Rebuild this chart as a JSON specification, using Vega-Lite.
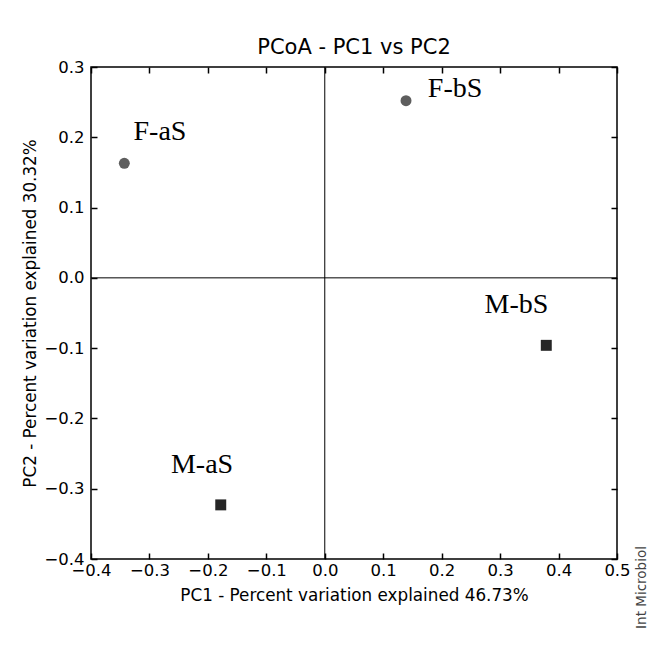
{
  "$schema": "https://vega.github.io/schema/vega-lite/v6.json",
  "width": 526,
  "height": 492,
  "autosize": {"type": "none"},
  "padding": {"left": 91, "top": 67, "right": 38, "bottom": 104},
  "background": "white",
  "title": {"text": "PCoA - PC1 vs PC2", "font": "DejaVu Sans", "fontSize": 21, "fontWeight": "normal", "color": "black", "offset": 1},
  "config": {
    "view": {"stroke": "black", "strokeWidth": 1.5},
    "axis": {
      "labelFont": "DejaVu Sans", "labelFontSize": 16.5, "labelColor": "black",
      "titleFont": "DejaVu Sans", "titleFontSize": 16.8, "titleFontWeight": "normal", "titleColor": "black",
      "domain": false, "grid": false, "tickColor": "black", "tickWidth": 1.5, "tickSize": -6,
      "labelOverlap": false, "labelFlush": false, "labelBound": false
    }
  },
  "datasets": {
    "pts": [
      {"sample": "F-aS", "group": "F", "pc1": -0.343, "pc2": 0.163, "lx": -0.282, "ly": 0.196},
      {"sample": "F-bS", "group": "F", "pc1": 0.139, "pc2": 0.252, "lx": 0.223, "ly": 0.257},
      {"sample": "M-bS", "group": "M", "pc1": 0.379, "pc2": -0.096, "lx": 0.328, "ly": -0.0495},
      {"sample": "M-aS", "group": "M", "pc1": -0.178, "pc2": -0.323, "lx": -0.21, "ly": -0.277}
    ],
    "zero": [{"v": 0}]
  },
  "layer": [
    {
      "data": {"name": "zero"},
      "mark": {"type": "rule", "color": "black", "strokeWidth": 1},
      "encoding": {"x": {"field": "v", "type": "quantitative", "scale": {"domain": [-0.4, 0.5], "nice": false, "zero": false}, "axis": null}}
    },
    {
      "data": {"name": "zero"},
      "mark": {"type": "rule", "color": "black", "strokeWidth": 1},
      "encoding": {"y": {"field": "v", "type": "quantitative", "scale": {"domain": [-0.4, 0.3], "nice": false, "zero": false}, "axis": null}}
    },
    {
      "data": {"name": "pts"},
      "mark": {"type": "point", "filled": true, "opacity": 1, "size": 120},
      "encoding": {
        "x": {"field": "pc1", "type": "quantitative", "scale": {"domain": [-0.4, 0.5], "nice": false, "zero": false},
              "axis": {"orient": "bottom", "values": [-0.4, -0.3, -0.2, -0.1, 0, 0.1, 0.2, 0.3, 0.4, 0.5], "format": ".1f", "labelPadding": 9, "title": "PC1 - Percent variation explained 46.73%", "titlePadding": 9}},
        "y": {"field": "pc2", "type": "quantitative", "scale": {"domain": [-0.4, 0.3], "nice": false, "zero": false},
              "axis": {"orient": "left", "values": [-0.4, -0.3, -0.2, -0.1, 0, 0.1, 0.2, 0.3], "format": ".1f", "labelPadding": 13, "title": "PC2 - Percent variation explained 30.32%", "titlePadding": 4}},
        "shape": {"field": "group", "type": "nominal", "scale": {"domain": ["F", "M"], "range": ["circle", "square"]}, "legend": null},
        "color": {"field": "group", "type": "nominal", "scale": {"domain": ["F", "M"], "range": ["#5e5e5e", "#262626"]}, "legend": null}
      }
    },
    {
      "data": {"name": "pts"},
      "mark": {"type": "text", "font": "Liberation Serif", "fontSize": 28, "color": "black", "align": "center", "baseline": "alphabetic"},
      "encoding": {
        "x": {"field": "lx", "type": "quantitative", "scale": {"domain": [-0.4, 0.5], "nice": false, "zero": false},
              "axis": {"orient": "top", "values": [-0.4, -0.3, -0.2, -0.1, 0, 0.1, 0.2, 0.3, 0.4, 0.5], "labels": false, "title": null}},
        "y": {"field": "ly", "type": "quantitative", "scale": {"domain": [-0.4, 0.3], "nice": false, "zero": false},
              "axis": {"orient": "right", "values": [-0.4, -0.3, -0.2, -0.1, 0, 0.1, 0.2, 0.3], "labels": false,
                       "title": "Int Microbiol", "titleAngle": -90, "titleX": 24, "titleY": 520, "titleAlign": "center", "titleBaseline": "middle",
                       "titleFontSize": 13.5, "titleColor": "#444444"}},
        "text": {"field": "sample", "type": "nominal"}
      }
    }
  ],
  "resolve": {"axis": {"x": "independent", "y": "independent"}}
}
